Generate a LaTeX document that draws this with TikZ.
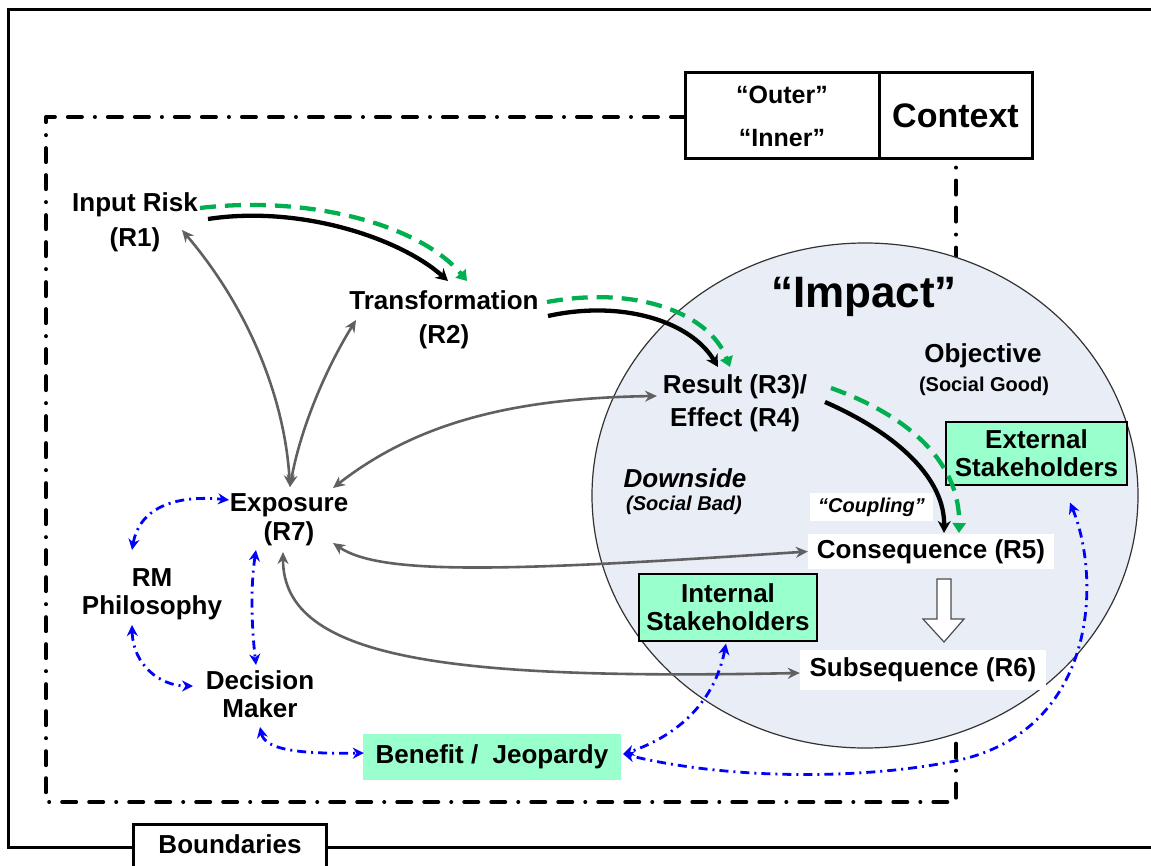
\documentclass[tikz,border=0pt]{standalone}
\usepackage{fontspec}
\setmainfont{Liberation Sans}
\usetikzlibrary{arrows.meta,calc}
\definecolor{mint}{HTML}{99FFCC}
\definecolor{zone}{HTML}{E8EDF6}
\definecolor{linkgray}{HTML}{606060}
\definecolor{flowgreen}{HTML}{00B050}
\definecolor{ctrlblue}{HTML}{0000FF}
\begin{document}
\begin{tikzpicture}[x=1pt,y=-1pt,
  lbl/.style={font=\bfseries\fontsize{26}{#1}\selectfont,align=center,inner sep=0pt},
  lbl/.default=30,
  small/.style={font=\bfseries\fontsize{20}{24}\selectfont,inner sep=0pt},
  smallit/.style={font=\bfseries\itshape\fontsize{20}{24}\selectfont,inner sep=0pt},
  whitebox/.style={lbl,fill=white},
  mintbox/.style={lbl=28,fill=mint},
  framebox/.style={draw=black,line width=3pt,fill=white,inner sep=0pt},
  boundline/.style={line width=4pt,line cap=round,line join=round,
    dash pattern=on 14pt off 13pt on 14pt off 13pt on 0.01pt off 13pt},
  flowblack/.style={draw=black,line width=4.3pt,-{Stealth[length=12pt,width=13pt]}},
  flowdash/.style={draw=flowgreen,line width=4.3pt,dash pattern=on 16pt off 9pt,
    -{Triangle[length=10pt,width=13pt]}},
  grayarr/.style={draw=linkgray,line width=2.6pt,
    {Stealth[length=12pt,width=11pt]}-{Stealth[length=12pt,width=11pt]}},
  bluearr/.style={draw=ctrlblue,line width=2.8pt,dash pattern=on 9pt off 5pt on 2pt off 5pt,
    {Stealth[length=11pt,width=11pt]}-{Stealth[length=11pt,width=11pt]}}
]
\useasboundingbox (0,0) rectangle (1151,866);
\clip (0,0) rectangle (1151,866);

% outer frame
\draw[line width=3pt] (1160,10) -- (8,10) -- (8,847) -- (1160,847);

% inner boundary (dash-dot)
\draw[boundline] (685,117) -- (46,117) -- (46,802) -- (956,802) -- (956,159);

% impact zone
\draw[draw=black!80,line width=1.2pt,fill=zone] (865,495.5) ellipse [x radius=273, y radius=252.5];

% context legend
\node[framebox,minimum width=194pt,minimum height=86pt,
  font=\bfseries\fontsize{25}{43}\selectfont,align=center] (layers) at (782,116) {“Outer”\\“Inner”};
\node[framebox,minimum width=153pt,minimum height=86pt,
  font=\bfseries\fontsize{34}{38}\selectfont] (ctx) at (955.5,116) {Context};

% boundaries tab
\filldraw[line width=3pt,fill=white] (133,880) -- (133,824) -- (326,824) -- (326,880);
\node[lbl] (bnd) at (230,844) {Boundaries};

% main labels
\node[lbl=35] (r1) at (135,222) {Input Risk\\(R1)};
\node[lbl=34] (r2) at (444,320) {Transformation\\(R2)};
\node[lbl=33] (r3) at (735,403) {Result (R3)/\\Effect (R4)};
\node[lbl=29] (r7) at (289,520) {Exposure\\(R7)};
\node[lbl=28] (rm) at (152,594) {RM\\Philosophy};
\node[lbl=28] (dm) at (260,694) {Decision\\Maker};

\node[font=\bfseries\fontsize{44}{50}\selectfont,inner sep=0pt] (imp) at (864,297) {“Impact”};
\node[lbl] (obj) at (983,356) {Objective};
\node[small] (objsub) at (984,386) {(Social Good)};
\node[lbl,font=\bfseries\itshape\fontsize{26}{30}\selectfont] (down) at (685,478) {Downside};
\node[smallit] (downsub) at (684,505) {(Social Bad)};

\node[whitebox,minimum width=246pt,minimum height=35pt] (r5) at (931,551.5) {Consequence (R5)};
\node[whitebox,minimum width=246pt,minimum height=40pt] (r6) at (923,670) {Subsequence (R6)};
\node[smallit,fill=white,minimum width=123pt,minimum height=28pt] (cpl) at (871.5,507) {“Coupling”};

\node[mintbox,draw=black,line width=1.2pt,minimum width=181pt,minimum height=63pt] (ext) at (1036.5,453.5) {External\\Stakeholders};
\node[mintbox,draw=black,line width=1.2pt,minimum width=178pt,minimum height=67pt] (int) at (728,607.5) {Internal\\Stakeholders};
\node[mintbox,minimum width=258pt,minimum height=46pt] (ben) at (492,757) {Benefit /\ \ Jeopardy};

% block arrow from consequence to subsequence
\filldraw[fill=white,draw=black!70,line width=1.2pt]
  (937,579) -- (951,579) -- (951,619) -- (964,619) -- (944,642) -- (923,619) -- (937,619) -- cycle;

% main flow
\draw[flowblack] ($(r1)+(73,-3)$) .. controls (300,205) and (400,238) .. ($(r2)+(4,-39)$);
\draw[flowdash]  ($(r1)+(65,-14)$) .. controls (310,195) and (420,225) .. ($(r2)+(23,-39)$);
\draw[flowblack] ($(r2)+(104,-4)$) .. controls (620,300) and (690,320) .. ($(r3)+(-17,-36)$);
\draw[flowdash]  ($(r2)+(103,-18)$) .. controls (640,285) and (710,315) .. ($(r3)+(-5,-36)$);
\draw[flowblack] ($(r3)+(90,-1)$) .. controls (900,435) and (945,480) .. ($(r5)+(13,-18.5)$);
\draw[flowdash]  ($(r3)+(96,-15)$) .. controls (920,420) and (960,470) .. ($(r5)+(28,-18.5)$);

% exposure links
\draw[grayarr] ($(r7)+(1,-33)$) .. controls (285,400) and (250,310) .. ($(r1)+(47,8)$);
\draw[grayarr] ($(r7)+(1,-33)$) .. controls (300,430) and (325,370) .. ($(r2)+(-88,0)$);
\draw[grayarr] ($(r7)+(44,-32)$) .. controls (420,420) and (520,398) .. ($(r3)+(-78,-7)$);
\draw[grayarr] ($(r7)+(44,23)$) .. controls (380,575) and (500,572) .. (r5.west);
\draw[grayarr] ($(r7)+(-6,32)$) .. controls (283,660) and (450,680) .. ($(r6.west)+(0,3)$);

% decision links
\draw[bluearr] ($(rm)+(-20,-44)$) .. controls (140,505) and (180,495) .. ($(r7)+(-60,-20)$);
\draw[bluearr] ($(rm)+(-20,31)$) .. controls (133,665) and (160,686) .. ($(dm)+(-67,-8)$);
\draw[bluearr] ($(r7)+(-33,30)$) .. controls (250,590) and (252,630) .. ($(dm)+(-4,-29)$);
\draw[bluearr] ($(dm)+(0,33)$) .. controls (265,750) and (300,754) .. ($(ben.west)+(1,-4)$);
\draw[bluearr] ($(int.south)+(-2,2)$) .. controls (715,700) and (680,735) .. ($(ben.east)+(2,-3)$);
\draw[bluearr] ($(ext.south)+(33.5,17)$) .. controls (1102,580) and (1097,735) .. (950,762)
  .. controls (850,781) and (720,778) .. ($(ben.east)+(2,-3)$);
\end{tikzpicture}
\end{document}
